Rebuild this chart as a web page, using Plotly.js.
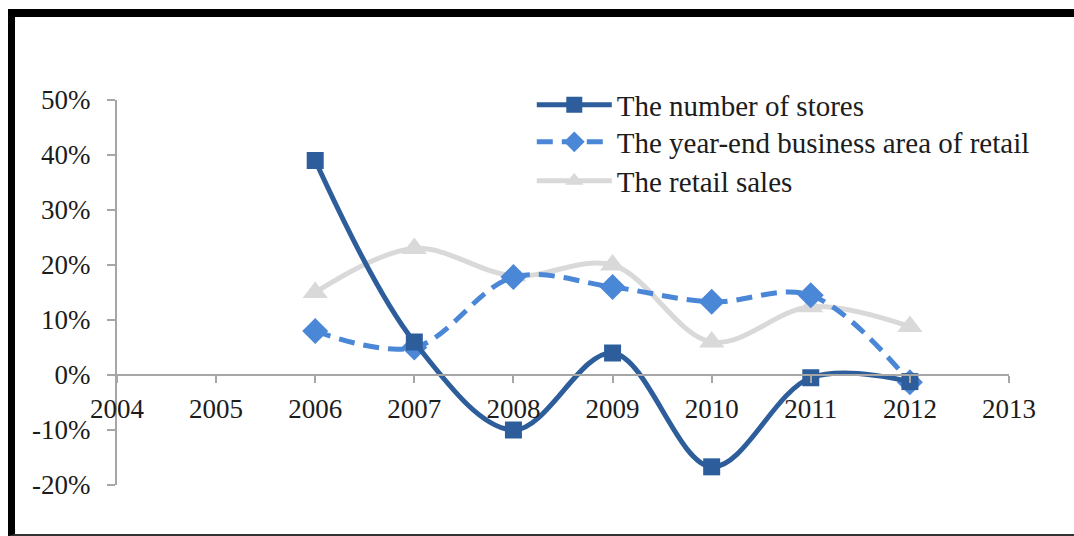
<!DOCTYPE html>
<html>
<head>
<meta charset="utf-8">
<script src="https://cdn.plot.ly/plotly-3.0.1.min.js"></script>
<style>
  html, body { margin: 0; padding: 0; background: #fff; }
  #wrap { position: relative; width: 1074px; height: 536px; overflow: hidden; }
  #chart { position: absolute; left: 0; top: 0; width: 1074px; height: 536px; }
  #frame { position: absolute; left: 8px; top: 9px; width: 1080px; height: 527px;
           border-left: 7px solid #000; border-top: 8px solid #000; border-bottom: 2px solid #333;
           box-sizing: border-box; pointer-events: none; }
</style>
</head>
<body>
<div id="wrap">
  <div id="chart"></div>
  <div id="frame"></div>
</div>
<script>
const years = [2006, 2007, 2008, 2009, 2010, 2011, 2012];
const storesGrowth = [39, 6, -10, 4, -16.7, -0.5, -1.2];
const areaGrowth = [8, 5, 17.8, 16, 13.3, 14.5, -1.3];
const salesGrowth = [15, 23, 18, 20, 6, 12.4, 8.8];
const seriesNames = ['The number of stores', 'The year-end business area of retail', 'The retail sales'];
const xTicks = [2004, 2005, 2006, 2007, 2008, 2009, 2010, 2011, 2012, 2013];
const yTicks = [-20, -10, 0, 10, 20, 30, 40, 50];
const yTickText = yTicks.map(v => v + '%');

const font = 'Liberation Serif, Times New Roman, serif';

const traces = [
  {
    x: years, y: salesGrowth, name: seriesNames[2], type: 'scatter', mode: 'lines+markers',
    line: { color: '#D9D9D9', width: 5, shape: 'spline', smoothing: 1 },
    marker: { symbol: 'triangle-up', size: 22, color: '#D9D9D9' },
    legend: 'legend3'
  },
  {
    x: years, y: areaGrowth, name: seriesNames[1], type: 'scatter', mode: 'lines+markers',
    line: { color: '#4A87D6', width: 5, dash: '16px,9px', shape: 'spline', smoothing: 1 },
    marker: { symbol: 'diamond', size: 20, color: '#4A87D6' },
    legend: 'legend2'
  },
  {
    x: years, y: storesGrowth, name: seriesNames[0], type: 'scatter', mode: 'lines+markers',
    line: { color: '#2D5E9B', width: 5, shape: 'spline', smoothing: 1 },
    marker: { symbol: 'square', size: 17, color: '#2D5E9B' },
    legend: 'legend'
  }
];

function legendBox(y) {
  return {
    x: 0.465, y: y, xanchor: 'left', yanchor: 'middle',
    bgcolor: 'rgba(0,0,0,0)', borderwidth: 0,
    font: { family: font, size: 29, color: '#1c1c1c' },
    itemwidth: 75
  };
}

const layout = {
  width: 1074, height: 536,
  margin: { l: 117, r: 65, t: 100, b: 51 },
  paper_bgcolor: '#fff', plot_bgcolor: '#fff',
  font: { family: font, size: 27, color: '#1c1c1c' },
  showlegend: true,
  legend: legendBox(0.987),
  legend2: legendBox(0.891),
  legend3: legendBox(0.790),
  xaxis: {
    range: [2004, 2013], tickvals: xTicks, ticktext: xTicks.map(String),
    anchor: 'free', position: 2/7,
    showgrid: false, zeroline: false, showline: true, linecolor: '#A6A6A6', linewidth: 2,
    ticks: 'outside', ticklen: 7, tickwidth: 2, tickcolor: '#A6A6A6',
    ticklabelstandoff: 3,
    tickfont: { family: font, size: 27, color: '#1c1c1c' }
  },
  yaxis: {
    range: [-20, 50], tickvals: yTicks, ticktext: yTickText,
    showgrid: false, zeroline: false, showline: true, linecolor: '#A6A6A6', linewidth: 2,
    ticks: 'outside', ticklen: 8, tickwidth: 2, tickcolor: '#A6A6A6',
    ticklabelstandoff: 11,
    tickfont: { family: font, size: 27, color: '#1c1c1c' }
  }
};

Plotly.newPlot('chart', traces, layout, { displayModeBar: false, staticPlot: true });
</script>
</body>
</html>
